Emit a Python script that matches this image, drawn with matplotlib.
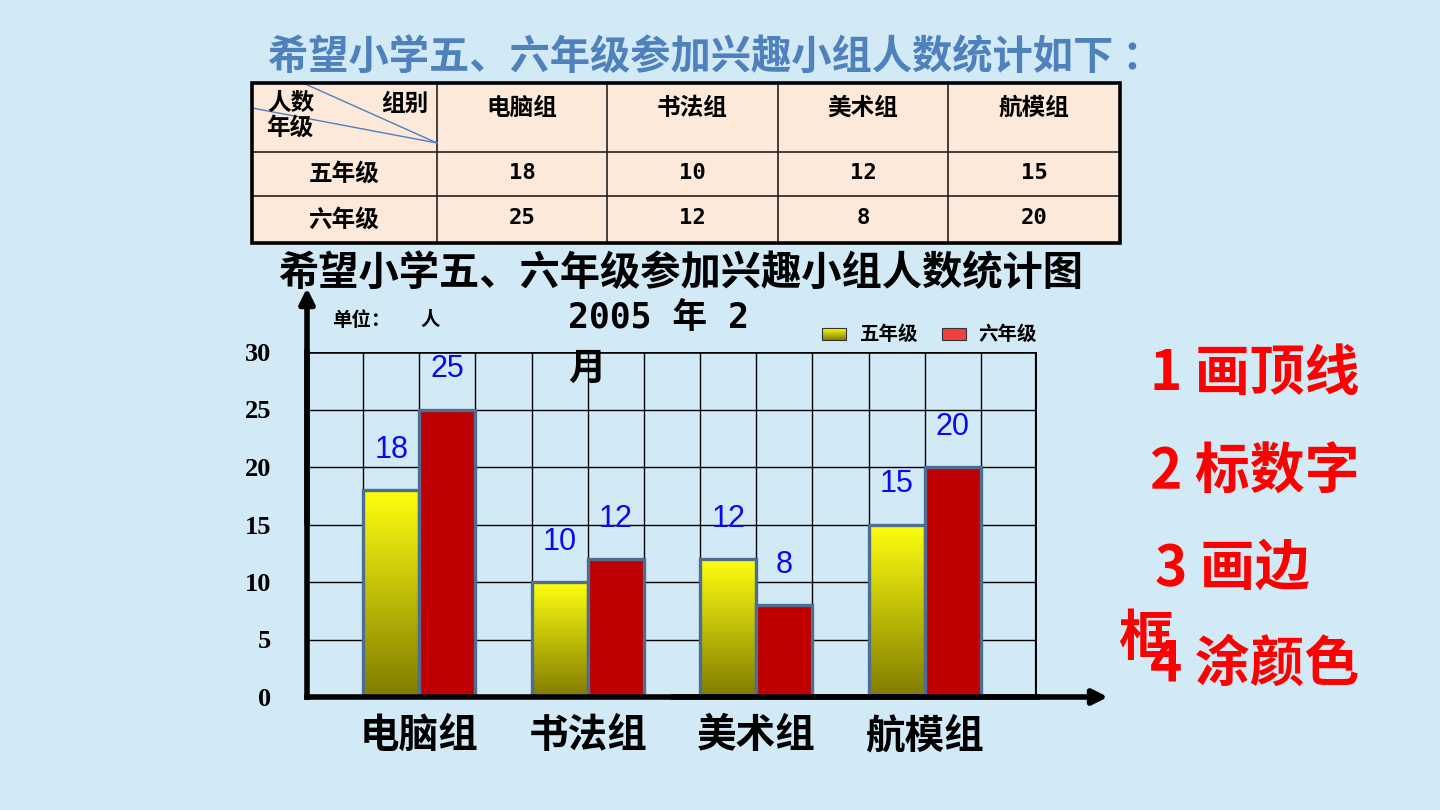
import numpy as np
import matplotlib
matplotlib.use("Agg")
import matplotlib.pyplot as plt
from matplotlib.patches import Rectangle
from matplotlib.colors import to_rgb

plt.rcParams["font.family"] = ["Noto Sans CJK SC", "DejaVu Sans"]

# Data
groups = ["电脑组", "书法组", "美术组", "航模组"]
grades = ["五年级", "六年级"]
grade5 = [18, 10, 12, 15]
grade6 = [25, 12, 8, 20]
yticks = [0, 5, 10, 15, 20, 25, 30]

bg = "#D2E9F6"
blue_title = "#4F81BD"
red6 = "#C00000"
edge = "#4E6D93"

W, H = 1440, 810
fig = plt.figure(figsize=(14.4, 8.1), dpi=100)
fig.patch.set_facecolor(bg)


def fx(px):
    return px / W


def fy(py):
    return 1 - py / H


# Overlay axes in pixel coordinates for table and texts
ov = fig.add_axes([0, 0, 1, 1])
ov.set_xlim(0, W)
ov.set_ylim(H, 0)
ov.axis("off")
ov.patch.set_alpha(0)

# Top title
ov.text(268, 57, "希望小学五、六年级参加兴趣小组人数统计如下 ：", color=blue_title,
        fontsize=29, fontweight="bold", ha="left", va="center")

# ---------- Table ----------
col_x = [252, 437, 607, 778, 948, 1120]
row_y = [83, 152, 196, 243]
ov.add_patch(Rectangle((col_x[0], row_y[0]), col_x[-1] - col_x[0], row_y[-1] - row_y[0],
                       facecolor="#FDE9DA", edgecolor="none", zorder=1))
for x in col_x[1:-1]:
    ov.plot([x, x], [row_y[0], row_y[-1]], color="#222222", lw=1.2, zorder=2)
for y in row_y[1:-1]:
    ov.plot([col_x[0], col_x[-1]], [y, y], color="#222222", lw=1.2, zorder=2)
ov.add_patch(Rectangle((col_x[0], row_y[0]), col_x[-1] - col_x[0], row_y[-1] - row_y[0],
                       facecolor="none", edgecolor="black", lw=2.6, zorder=3))
# diagonal lines in header cell
ov.plot([303, col_x[1]], [row_y[0], 143], color="#4F7FC0", lw=1.0, zorder=2)
ov.plot([col_x[0], col_x[1]], [108, 143], color="#4F7FC0", lw=1.0, zorder=2)
ov.text(291, 103, "人数", fontsize=17, fontweight="bold", ha="center", va="center", zorder=4)
ov.text(290, 128, "年级", fontsize=17, fontweight="bold", ha="center", va="center", zorder=4)
ov.text(405, 104, "组别", fontsize=17, fontweight="bold", ha="center", va="center", zorder=4)

for i, g in enumerate(groups):
    cx = (col_x[i + 1] + col_x[i + 2]) / 2
    ov.text(cx, 108, g, fontsize=17, fontweight="bold", ha="center", va="center", zorder=4)
    ov.text(cx, 173, str(grade5[i]), fontsize=16, fontweight="bold",
            family="DejaVu Sans Mono", ha="center", va="center", zorder=4)
    ov.text(cx, 218, str(grade6[i]), fontsize=16, fontweight="bold",
            family="DejaVu Sans Mono", ha="center", va="center", zorder=4)
for j, gr in enumerate(grades):
    ov.text(344, (row_y[j + 1] + row_y[j + 2]) / 2, gr, fontsize=17, fontweight="bold",
            ha="center", va="center", zorder=4)

# Chart title and notes
ov.text(681, 273, "希望小学五、六年级参加兴趣小组人数统计图", fontsize=29,
        fontweight="bold", ha="center", va="center")
ov.text(332, 320, "单位：", fontsize=14, fontweight="bold", ha="left", va="center")
ov.text(420, 320, "人", fontsize=14, fontweight="bold", ha="left", va="center")
ov.text(568, 318, "2005 年 2", fontsize=25, fontweight="bold", ha="left", va="center",
        family=["DejaVu Sans Mono", "Noto Sans CJK SC"])
ov.text(568, 368, "月", fontsize=27, fontweight="bold", ha="left", va="center")

# Legend
grad_top = np.array(to_rgb("#FFFF10"))
grad_bot = np.array(to_rgb("#807C00"))
t = np.linspace(0, 1, 256)[:, None, None]
grad = grad_top * (1 - t) + grad_bot * t

ov.imshow(grad, extent=[822, 846, 340, 328], aspect="auto", zorder=3)
ov.add_patch(Rectangle((822, 328), 24, 12, facecolor="none", edgecolor="#333333", lw=0.8, zorder=4))
ov.text(860, 334, grades[0], fontsize=14, fontweight="bold", ha="left", va="center")
ov.add_patch(Rectangle((942, 328), 24, 12, facecolor="#F04040", edgecolor="#333333", lw=0.8, zorder=4))
ov.text(978, 334, grades[1], fontsize=14, fontweight="bold", ha="left", va="center")

# Right side steps
red = "#FF0000"
ov.text(1150, 373, "1 画顶线", color=red, fontsize=39.5, fontweight="bold", ha="left", va="center")
ov.text(1150, 472, "2 标数字", color=red, fontsize=39.5, fontweight="bold", ha="left", va="center")
ov.text(1155, 568, "3 画边", color=red, fontsize=39.5, fontweight="bold", ha="left", va="center")
ov.text(1150, 664, "4 涂颜色", color=red, fontsize=39.5, fontweight="bold", ha="left", va="center")
ov.text(1118, 638, "框", color=red, fontsize=39.5, fontweight="bold", ha="left", va="center")

# ---------- Bar chart ----------
ax = fig.add_axes([fx(307), fy(697), fx(1037) - fx(307), (697 - 352) / H])
ax.patch.set_alpha(0)
ncols = 13

for k in range(1, ncols):
    ax.axvline(k, color="black", lw=1.0, zorder=1)
for v in yticks[1:-1]:
    ax.axhline(v, color="black", lw=1.0, zorder=1)
ax.axhline(yticks[-1], color="black", lw=2.6, zorder=1)
ax.axvline(ncols, color="black", lw=3.0, zorder=1)

x5 = np.arange(len(groups)) * 3 + 1.5
x6 = x5 + 1

b5 = ax.bar(x5, grade5, width=1, facecolor="none", edgecolor=edge, lw=2.4, zorder=4)
for rect in b5:
    x0 = rect.get_x()
    h = rect.get_height()
    im = ax.imshow(grad, extent=[x0, x0 + 1, 0, h], aspect="auto", zorder=3)
    im.set_clip_path(rect)
ax.bar(x6, grade6, width=1, facecolor=red6, edgecolor=edge, lw=2.4, zorder=4)

for xs, vals in ((x5, grade5), (x6, grade6)):
    for xv, v in zip(xs, vals):
        ax.text(xv, v + 3.5, str(v), color="#0A0AEE", fontsize=22,
                family="Liberation Sans", ha="center", va="center", zorder=5)

ax.set_xlim(0, ncols)
ax.set_ylim(0, 30)
for s in ["top", "right"]:
    ax.spines[s].set_visible(False)
for s in ["left", "bottom"]:
    ax.spines[s].set_linewidth(4)
    ax.spines[s].set_zorder(6)

ax.set_yticks(yticks)
ax.set_yticklabels([str(v) for v in yticks], family="Liberation Serif",
                   fontweight="bold", fontsize=19)
ax.tick_params(axis="y", length=0, pad=26)
ax.set_xticks(x5 + 0.5)
ax.set_xticklabels(groups, fontsize=28.5, fontweight="bold")
ax.tick_params(axis="x", length=0, pad=13)

# axis arrows
ax.annotate("", xy=(0, (697 - 288) / 345), xytext=(0, 0.5), xycoords="axes fraction",
            arrowprops=dict(arrowstyle="-|>", lw=4, color="black", mutation_scale=22,
                            shrinkA=0, shrinkB=0), annotation_clip=False)
ax.annotate("", xy=((1108 - 307) / 730, 0), xytext=(0.5, 0), xycoords="axes fraction",
            arrowprops=dict(arrowstyle="-|>", lw=4, color="black", mutation_scale=22,
                            shrinkA=0, shrinkB=0), annotation_clip=False)

fig.savefig("out.png", dpi=100, facecolor=bg)
